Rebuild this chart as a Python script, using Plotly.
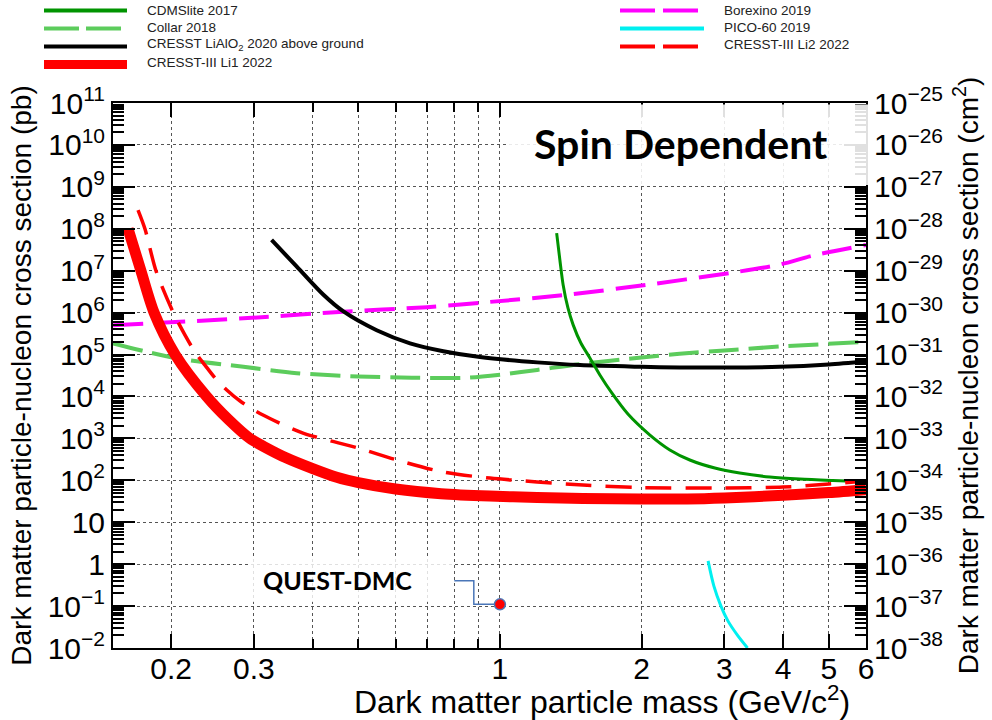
import plotly.graph_objects as go

# ---------------- data ----------------
cdms_mass = [1.320, 1.341, 1.363, 1.395, 1.431, 1.486, 1.553, 1.631, 1.729, 1.871, 2.084, 2.297, 2.533,
             2.863, 3.234, 3.748, 4.34, 5.10, 6.0]
cdms_xsec = [7.9e7, 1.8e7, 4.5e6, 1.29e6, 5.1e5, 1.88e5, 8.3e4, 3.25e4, 1.21e4, 3.8e3, 1.2e3, 530, 305,
             196, 149, 120, 107, 99, 93]

collar_mass = [0.1505, 0.206, 0.285, 0.37, 0.50, 0.65, 0.85, 1.0, 1.2, 1.48, 2.0, 2.41, 3.0, 3.93, 6.0]
collar_xsec = [1.85e5, 8.1e4, 5.1e4, 3.6e4, 3.0e4, 2.8e4, 2.8e4, 3.3e4, 4.3e4, 5.9e4, 8.5e4, 1.05e5, 1.25e5, 1.55e5, 2.0e5]

lialo_mass = [0.327, 0.370, 0.421, 0.464, 0.547, 0.644, 0.758, 0.907, 1.2, 1.48, 2.0, 2.41, 3.0, 3.93, 5.0, 6.0]
lialo_xsec = [5.4e7, 1.25e7, 2.7e6, 1.08e6, 3.8e5, 1.85e5, 1.2e5, 8.7e4, 6.5e4, 5.6e4, 5.1e4, 4.9e4, 4.9e4, 5.1e4, 5.8e4, 6.8e4]

li1_mass = [0.162, 0.1725, 0.184, 0.204, 0.238, 0.265, 0.294, 0.32, 0.35, 0.40, 0.45, 0.50, 0.60, 0.75,
            0.95, 1.2, 1.5, 2.0, 2.5, 3.0, 4.0, 5.0, 6.0]
li1_xsec = [1e8, 1e7, 1e6, 1e5, 1e4, 2.8e3, 1e3, 580, 350, 190, 118, 88, 62, 48,
            42, 39, 37, 36, 36, 38, 44, 51, 60]

borexino_mass = [0.1505, 0.285, 0.464, 0.70, 0.952, 1.363, 2.05, 3.08, 3.93, 4.63, 6.0]
borexino_xsec = [5e5, 7.3e5, 1.05e6, 1.35e6, 1.8e6, 2.6e6, 4.6e6, 8.8e6, 1.4e7, 2.3e7, 4.1e7]

pico_mass = [2.77, 2.85, 2.95, 3.05, 3.2, 3.36]
pico_xsec = [1.2, 0.3, 0.1, 0.045, 0.02, 0.01]

li2_mass = [0.1701, 0.1760, 0.1858, 0.2019, 0.2141, 0.2248, 0.2360, 0.2480, 0.2626, 0.2803, 0.3136,
            0.3814, 0.4992, 0.6042, 0.7567, 0.9523, 1.501, 2.003, 2.992, 3.995, 5.003, 5.996]
li2_xsec = [2.8e8, 9.9e7, 9.8e6, 1.03e6, 2.9e5, 1.15e5, 5.6e4, 2.75e4, 1.43e4, 7.8e3, 3.6e3,
            1.34e3, 590, 305, 158, 113, 77, 67, 65.5, 69, 81.5, 96]

quest_step_mass = [0.80, 0.88, 1.0]
quest_step_xsec = [0.4, 0.11, 0.11]
quest_mass = [1.0]
quest_xsec = [0.11]

series_names = ["CDMSlite 2017", "Collar 2018", "CRESST LiAlO<sub>2</sub> 2020 above ground",
                "CRESST-III Li1 2022", "Borexino 2019", "PICO-60 2019", "CRESST-III Li2 2022"]

x_tickvals = [0.2, 0.3, 1, 2, 3, 4, 5, 6]
x_ticktext = ["0.2", "0.3", "1", "2", "3", "4", "5", "6"]
x_minor_tickvals = [0.4, 0.5, 0.6, 0.7, 0.8, 0.9]

y_tickvals = [1e11, 1e10, 1e9, 1e8, 1e7, 1e6, 1e5, 1e4, 1e3, 1e2, 10, 1, 0.1, 0.01]
y_ticktext = ["10<sup>11</sup>", "10<sup>10</sup>", "10<sup>9</sup>", "10<sup>8</sup>", "10<sup>7</sup>",
              "10<sup>6</sup>", "10<sup>5</sup>", "10<sup>4</sup>", "10<sup>3</sup>", "10<sup>2</sup>",
              "10", "1", "10<sup>−1</sup>", "10<sup>−2</sup>"]

y2_tickvals = [1e-25, 1e-26, 1e-27, 1e-28, 1e-29, 1e-30, 1e-31, 1e-32, 1e-33, 1e-34, 1e-35, 1e-36, 1e-37, 1e-38]
y2_ticktext = ["10<sup>−%d</sup>" % k for k in range(25, 39)]

# minor tick positions (2..9 within each decade)
y_minor_tickvals = [d * 10.0 ** e for e in range(-2, 11) for d in range(2, 10)]
y2_minor_tickvals = [d * 10.0 ** e for e in range(-38, -25) for d in range(2, 10)]

# ---------------- styling / layout helpers ----------------
FONT = "Liberation Sans, Arial, Helvetica, sans-serif"
BOLD_FONT = "Lato, Noto Sans, sans-serif"
PL, PR, PT, PB = 113, 866, 103, 648  # plot area in pixels
W, H = PR - PL, PB - PT


def fx(px):
    return (px - PL) / W


def fy(py):
    return (PB - py) / H


RED = "#ff0000"
DKGREEN = "#009400"
LTGREEN = "#5ccc5c"
MAGENTA = "#ff00ff"
CYAN = "#00f0f0"
GRID = "#555555"
TICKC = "black"

fig = go.Figure()

fig.add_trace(go.Scatter(x=collar_mass, y=collar_xsec, name="Collar 2018", mode="lines",
                         line=dict(color=LTGREEN, width=4, dash="30px,10px", shape="spline", smoothing=0.8)))
fig.add_trace(go.Scatter(x=borexino_mass, y=borexino_xsec, name="Borexino 2019", mode="lines",
                         line=dict(color=MAGENTA, width=4, dash="30px,12px", shape="spline", smoothing=0.8)))
fig.add_trace(go.Scatter(x=lialo_mass, y=lialo_xsec, name="CRESST LiAlO2 2020 above ground", mode="lines",
                         line=dict(color="black", width=4, shape="spline", smoothing=0.8)))
fig.add_trace(go.Scatter(x=cdms_mass, y=cdms_xsec, name="CDMSlite 2017", mode="lines",
                         line=dict(color=DKGREEN, width=3, shape="spline", smoothing=0.8)))
fig.add_trace(go.Scatter(x=pico_mass, y=pico_xsec, name="PICO-60 2019", mode="lines",
                         line=dict(color=CYAN, width=3, shape="spline", smoothing=0.8)))
fig.add_trace(go.Scatter(x=li2_mass, y=li2_xsec, name="CRESST-III Li2 2022", mode="lines",
                         line=dict(color=RED, width=3.5, dash="26px,14px", shape="spline", smoothing=0.8)))
fig.add_trace(go.Scatter(x=li1_mass, y=li1_xsec, name="CRESST-III Li1 2022", mode="lines",
                         line=dict(color=RED, width=11, shape="spline", smoothing=0.8)))
fig.add_trace(go.Scatter(x=quest_step_mass, y=quest_step_xsec, name="QUEST-DMC step", mode="lines",
                         line=dict(color="#4a76b8", width=1.5, shape="hv")))
fig.add_trace(go.Scatter(x=quest_mass, y=quest_xsec, name="QUEST-DMC", mode="markers",
                         marker=dict(color=RED, size=11, line=dict(color="#4a76b8", width=1.5))))
# empty trace so that the right-hand (cm^2) axis is drawn
fig.add_trace(go.Scatter(x=[], y=[], yaxis="y2", showlegend=False, hoverinfo="skip"))

axis_common = dict(showline=True, linecolor="black", linewidth=2, ticks="inside",
                   tickcolor=TICKC, tickwidth=2, automargin=False,
                   tickfont=dict(family=FONT, size=30, color="black"), zeroline=False)

fig.update_layout(
    width=992, height=720,
    margin=dict(l=PL, r=992 - PR, t=PT, b=720 - PB),
    paper_bgcolor="white", plot_bgcolor="white",
    showlegend=False,
    font=dict(family=FONT, color="black"),
    xaxis=dict(type="log", range=[-0.8225, 0.77815], tickmode="array",
               tickvals=x_tickvals, ticktext=x_ticktext, ticklen=14, mirror="ticks",
               ticklabelstandoff=-7,
               minor=dict(tickmode="array", tickvals=x_minor_tickvals, ticks="inside", ticklen=9,
                          tickcolor=TICKC, tickwidth=1.5, showgrid=True, gridcolor=GRID,
                          griddash="dot", gridwidth=1),
               showgrid=True, gridcolor=GRID, griddash="dot", gridwidth=1, **axis_common),
    yaxis=dict(type="log", range=[-2, 11], tickmode="array", tickvals=y_tickvals,
               ticktext=y_ticktext, ticklen=22,
               minor=dict(tickmode="array", tickvals=y_minor_tickvals, ticks="inside", ticklen=11,
                          tickcolor=TICKC, tickwidth=1.5, showgrid=False),
               showgrid=True, gridcolor=GRID, griddash="dot", gridwidth=1,
               title=dict(text="Dark matter particle-nucleon cross section (pb)",
                          font=dict(family=FONT, size=28, color="black"), standoff=8),
               **axis_common),
    yaxis2=dict(type="log", range=[-38, -25], overlaying="y", side="right", anchor="x",
                tickmode="array", tickvals=y2_tickvals, ticktext=y2_ticktext, ticklen=22,
                minor=dict(tickmode="array", tickvals=y2_minor_tickvals, ticks="inside", ticklen=11,
                           tickcolor=TICKC, tickwidth=1.5, showgrid=False),
                showgrid=False,
                title=dict(text="Dark matter particle-nucleon cross section (cm<sup>2</sup>)",
                           font=dict(family=FONT, size=28, color="black"), standoff=16),
                **axis_common),
)

shapes = []
annotations = []

# semi-transparent white boxes behind the two bold labels
shapes.append(dict(type="rect", xref="paper", yref="paper", x0=fx(508), x1=fx(869), y0=fy(185), y1=fy(104.5),
                   fillcolor="rgba(255,255,255,0.88)", line=dict(width=0), layer="above"))
shapes.append(dict(type="rect", xref="paper", yref="paper", x0=fx(250), x1=fx(452), y0=fy(602), y1=fy(559),
                   fillcolor="rgba(255,255,255,0.82)", line=dict(width=0), layer="above"))

annotations.append(dict(xref="paper", yref="paper", x=fx(681), y=fy(143), text="<b>Spin Dependent</b>",
                        showarrow=False, xanchor="center", yanchor="middle",
                        font=dict(family=BOLD_FONT, size=41, color="black")))
annotations.append(dict(xref="paper", yref="paper", x=fx(337), y=fy(580), text="<b>QUEST-DMC</b>",
                        showarrow=False, xanchor="center", yanchor="middle",
                        font=dict(family=BOLD_FONT, size=25, color="black")))

# x-axis title (right-aligned as in the reference)
annotations.append(dict(xref="paper", yref="paper", x=fx(852), y=fy(700),
                        text="Dark matter particle mass (GeV/c<sup>2</sup>)", showarrow=False,
                        xanchor="right", yanchor="middle", font=dict(family=FONT, size=32, color="black")))

# manual legend (two columns above the plot)
legend_entries = [
    # name index, color, width, dash, x0, x1, line y, text x, text y
    (0, DKGREEN, 4, "solid", 44, 127, 10.5, 145, 10),
    (1, LTGREEN, 4, "35px,7px", 44, 127, 28.5, 145, 27.5),
    (2, "black", 4, "solid", 44, 127, 46.5, 145, 44.5),
    (3, RED, 9, "solid", 44, 127, 64.5, 145, 62.5),
    (4, MAGENTA, 4, "35px,8px", 620, 704, 10.5, 722, 10),
    (5, CYAN, 4, "solid", 620, 704, 28.5, 722, 27),
    (6, RED, 4, "35px,8px", 620, 704, 46.5, 722, 44.5),
]
for idx, col, wd, dsh, x0, x1, ly, tx, ty in legend_entries:
    shapes.append(dict(type="line", xref="paper", yref="paper", x0=fx(x0), x1=fx(x1), y0=fy(ly), y1=fy(ly),
                       line=dict(color=col, width=wd, dash=dsh)))
    annotations.append(dict(xref="paper", yref="paper", x=fx(tx), y=fy(ty), text=series_names[idx],
                            showarrow=False, xanchor="left", yanchor="middle",
                            font=dict(family=FONT, size=13.5, color="#222")))

fig.update_layout(shapes=shapes, annotations=annotations)

fig.write_html("out.html", config={"displayModeBar": False},
               post_script="document.body.style.margin='0px';")
